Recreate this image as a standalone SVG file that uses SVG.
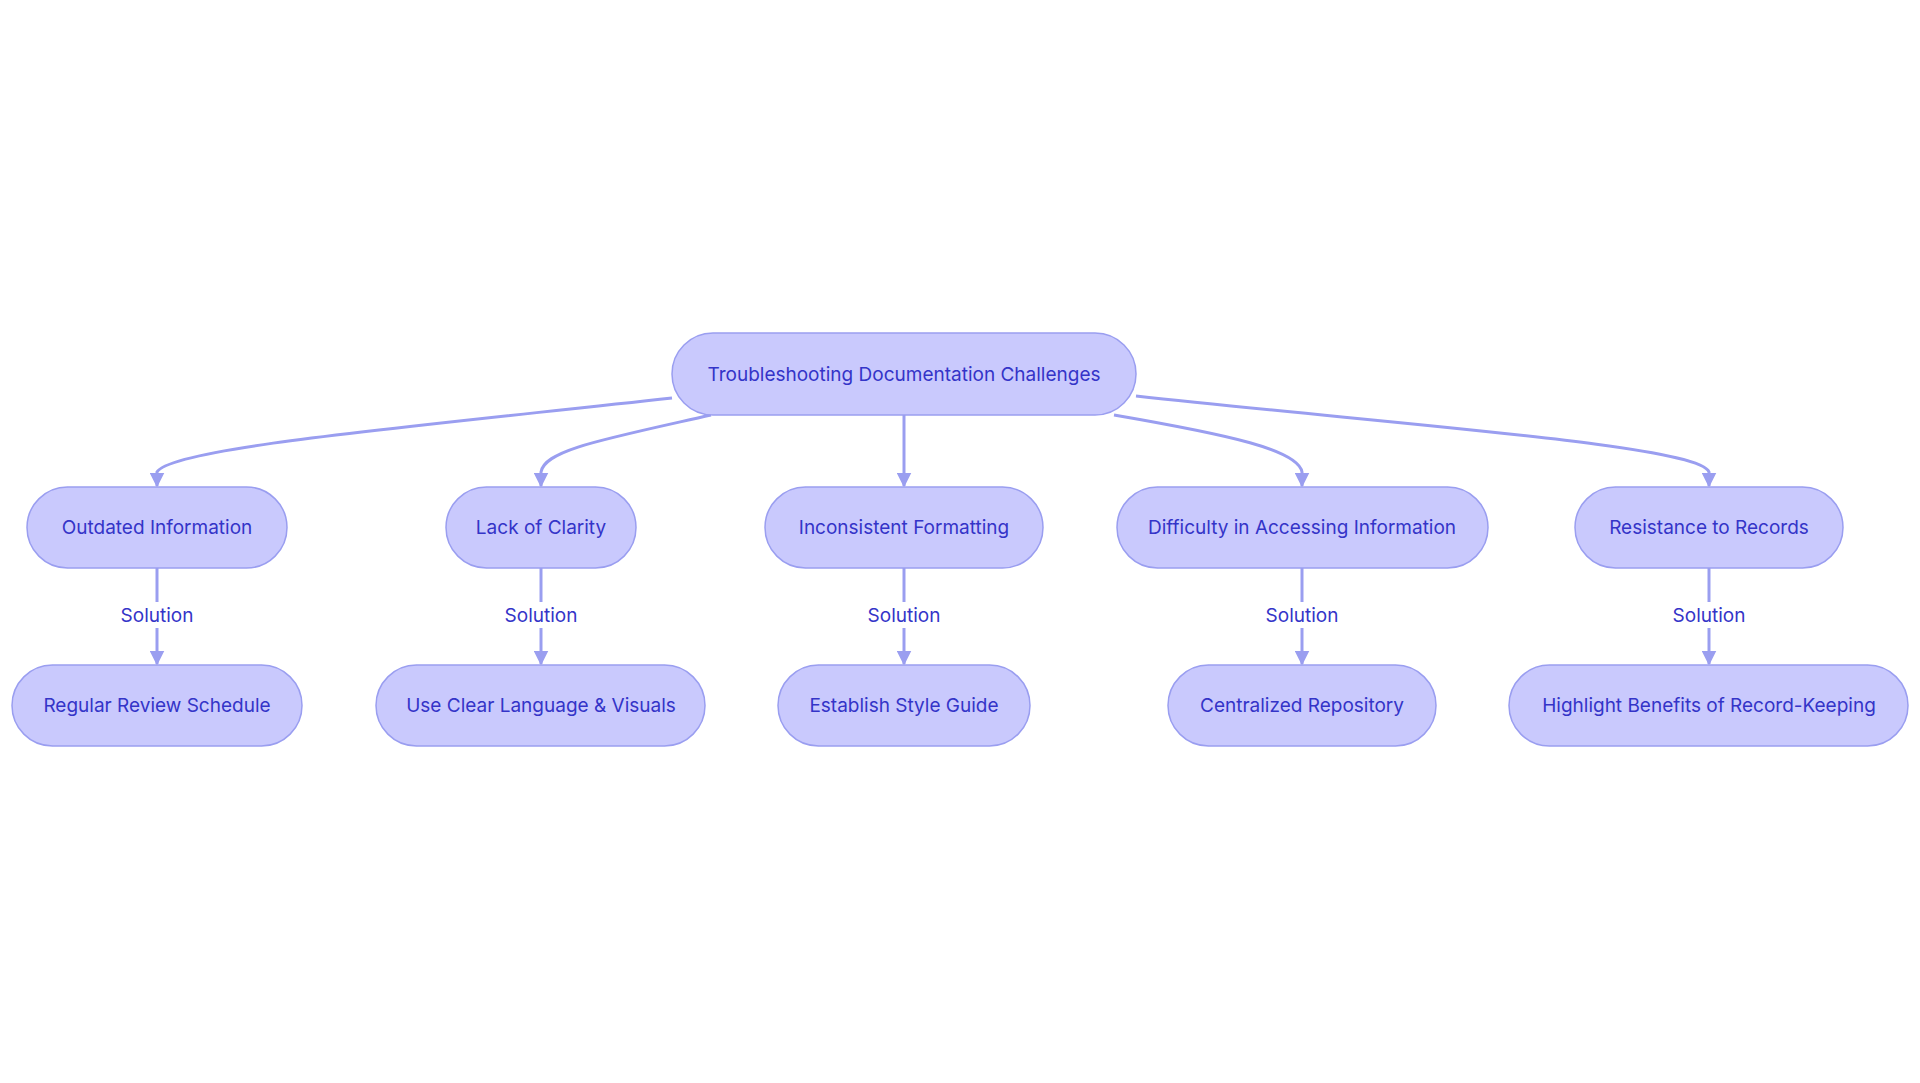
<svg xmlns="http://www.w3.org/2000/svg" width="1920" height="1083" viewBox="0 0 1920 1083">
<style>
.n rect{fill:#c9c9fd;stroke:#9a9ef0;stroke-width:1.5}
.n text,.l{font-family:Inter,"Liberation Sans",sans-serif;font-size:19px;fill:#3434c8;text-anchor:middle;dominant-baseline:central}
.e{fill:none;stroke:#9a9ef0;stroke-width:3;marker-end:url(#a)}
.lb{fill:#fff}
</style>
<defs><marker id="a" viewBox="0 0 10 10" refX="9" refY="5" markerWidth="5" markerHeight="5" orient="auto"><path d="M0,0L10,5L0,10z" fill="#9a9ef0"/></marker></defs>
<rect width="1920" height="1083" fill="#fff"/>
<g id="edges">
<path class="e" d="M672,398 C400,428 170,448 157,472 L157,486"/>
<path class="e" d="M711,415 C600,440 545,450 541,472 L541,486"/>
<path class="e" d="M904,415 L904,486"/>
<path class="e" d="M1114,415 C1230,435 1298,450 1302,472 L1302,486"/>
<path class="e" d="M1136,396 C1400,425 1700,445 1709,472 L1709,486"/>
<path class="e" d="M157,568 L157,664"/>
<path class="e" d="M541,568 L541,664"/>
<path class="e" d="M904,568 L904,664"/>
<path class="e" d="M1302,568 L1302,664"/>
<path class="e" d="M1709,568 L1709,664"/>
<g>
<rect class="lb" x="115" y="602" width="84" height="26"/><text class="l" x="157" y="615">Solution</text>
<rect class="lb" x="499" y="602" width="84" height="26"/><text class="l" x="541" y="615">Solution</text>
<rect class="lb" x="862" y="602" width="84" height="26"/><text class="l" x="904" y="615">Solution</text>
<rect class="lb" x="1260" y="602" width="84" height="26"/><text class="l" x="1302" y="615">Solution</text>
<rect class="lb" x="1667" y="602" width="84" height="26"/><text class="l" x="1709" y="615">Solution</text>
</g>
</g>
<g id="root" class="n"><rect x="672" y="333" width="464" height="82" rx="41"/><text x="904" y="374">Troubleshooting Documentation Challenges</text></g>
<g id="outdated" class="n"><rect x="27" y="487" width="260" height="81" rx="40.5"/><text x="157" y="527.5">Outdated Information</text></g>
<g id="clarity" class="n"><rect x="446" y="487" width="190" height="81" rx="40.5"/><text x="541" y="527.5">Lack of Clarity</text></g>
<g id="formatting" class="n"><rect x="765" y="487" width="278" height="81" rx="40.5"/><text x="904" y="527.5">Inconsistent Formatting</text></g>
<g id="access" class="n"><rect x="1117" y="487" width="371" height="81" rx="40.5"/><text x="1302" y="527.5">Difficulty in Accessing Information</text></g>
<g id="resistance" class="n"><rect x="1575" y="487" width="268" height="81" rx="40.5"/><text x="1709" y="527.5">Resistance to Records</text></g>
<g id="review" class="n"><rect x="12" y="665" width="290" height="81" rx="40.5"/><text x="157" y="705.5">Regular Review Schedule</text></g>
<g id="language" class="n"><rect x="376" y="665" width="329" height="81" rx="40.5"/><text x="541" y="705.5">Use Clear Language &amp; Visuals</text></g>
<g id="style" class="n"><rect x="778" y="665" width="252" height="81" rx="40.5"/><text x="904" y="705.5">Establish Style Guide</text></g>
<g id="repo" class="n"><rect x="1168" y="665" width="268" height="81" rx="40.5"/><text x="1302" y="705.5">Centralized Repository</text></g>
<g id="benefits" class="n"><rect x="1509" y="665" width="399" height="81" rx="40.5"/><text x="1709" y="705.5">Highlight Benefits of Record-Keeping</text></g>
</svg>
